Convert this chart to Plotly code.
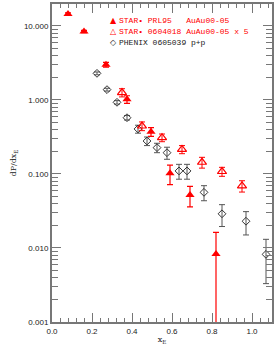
import plotly.graph_objects as go

# STAR PRL95 AuAu00-05 (filled triangles)
star1_x = [0.08, 0.16, 0.27, 0.375, 0.495, 0.59, 0.69, 0.82]
star1_y = [14.5, 8.4, 3.0, 1.02, 0.373, 0.102, 0.052, 0.0083]
star1_e = [0.5, 0.3, 0.22, 0.12, 0.05, 0.03, 0.016, 0.008]
star1_em = [0.5, 0.3, 0.22, 0.12, 0.05, 0.03, 0.016, 0.00829]

# STAR 0604018 AuAu00-05 x 5 (open triangles)
star2_x = [0.35, 0.45, 0.55, 0.65, 0.75, 0.85, 0.95]
star2_y = [1.26, 0.445, 0.31, 0.215, 0.144, 0.108, 0.069]
star2_e = [0.16, 0.06, 0.037, 0.027, 0.024, 0.015, 0.012]

# PHENIX 0605039 p+p (open diamonds)
phx_x = [0.225, 0.275, 0.325, 0.375, 0.43, 0.475, 0.525, 0.575, 0.635, 0.675, 0.76, 0.85, 0.97, 1.07]
phx_y = [2.29, 1.38, 0.93, 0.576, 0.406, 0.279, 0.227, 0.194, 0.11, 0.11, 0.0565, 0.029, 0.023, 0.0082]
phx_e = [0.1, 0.06, 0.05, 0.04, 0.05, 0.037, 0.033, 0.036, 0.025, 0.025, 0.013, 0.0095, 0.008, 0.0049]

legend_labels = ["STAR\u2022 PRL95   AuAu00-05",
                 "STAR\u2022 0604018 AuAu00-05 x 5",
                 "PHENIX 0605039 p+p"]
legend_symbols = ["\u25b2", "\u25b3", "\u25c7"]

x_tickvals = [0, 0.2, 0.4, 0.6, 0.8, 1.0]
x_ticktext = ["0.0", "0.2", "0.4", "0.6", "0.8", "1.0"]
y_tickvals = [0.001, 0.01, 0.1, 1, 10]
y_ticktext = ["0.001", "0.010", "0.100", "1.000", "10.000"]
y_minor = [m * 10 ** d for d in range(-3, 2) for m in range(2, 10)]

RED = "#ff0000"
BLK = "#222222"
GRAY = "#555555"
AXC = "#777777"

fig = go.Figure()
fig.add_trace(go.Scatter(
    x=phx_x, y=phx_y, mode="markers", name=legend_labels[2],
    marker=dict(symbol="diamond-open", size=6, color="#333333", line=dict(width=1)),
    error_y=dict(type="data", array=phx_e, color=GRAY, thickness=1, width=3)))
fig.add_trace(go.Scatter(
    x=star2_x, y=star2_y, mode="markers", name=legend_labels[1],
    marker=dict(symbol="triangle-up-open", size=8, color=RED, line=dict(width=1.2)),
    error_y=dict(type="data", array=star2_e, color=RED, thickness=1, width=3)))
fig.add_trace(go.Scatter(
    x=star1_x, y=star1_y, mode="markers", name=legend_labels[0],
    marker=dict(symbol="triangle-up", size=8, color=RED),
    error_y=dict(type="data", array=star1_e, arrayminus=star1_em, color=RED, thickness=1.2, width=3)))

# legend as text annotations in paper coordinates
leg_col = [RED, RED, BLK]
leg_y_px = [21, 32, 43]
H_plot = 318.0
W_plot = 220.0
for i in range(3):
    yp = 1 - (leg_y_px[i] - 4) / H_plot
    fig.add_annotation(x=(113 - 52) / W_plot, y=yp, xref="paper", yref="paper",
                       text=legend_symbols[i], showarrow=False, xanchor="center", yanchor="middle",
                       font=dict(family="DejaVu Sans", size=8, color=leg_col[i]))
    fig.add_annotation(x=(117 - 52) / W_plot, y=yp, xref="paper", yref="paper",
                       text=legend_labels[i], showarrow=False, xanchor="left", yanchor="middle",
                       font=dict(family="Liberation Mono", size=8, color=leg_col[i]))

fig.update_layout(
    width=274, height=346,
    margin=dict(l=52, r=2, t=4, b=24),
    paper_bgcolor="white", plot_bgcolor="white",
    showlegend=False,
    font=dict(family="Liberation Sans", size=8, color=BLK),
    xaxis=dict(range=[0, 1.1], tickvals=x_tickvals, ticktext=x_ticktext,
               ticks="inside", ticklen=9, tickwidth=1, tickcolor=AXC,
               minor=dict(dtick=0.04, tick0=0, ticks="inside", ticklen=4, tickcolor=AXC, tickwidth=1, showgrid=False),
               showline=True, linecolor=AXC, linewidth=2, mirror="ticks",
               showgrid=False, zeroline=False, automargin=False,
               title=dict(text="x<sub>E</sub>", font=dict(size=8, family="DejaVu Serif"), standoff=2)),
    yaxis=dict(type="log", range=[-3, 1.297],
               tickvals=y_tickvals, ticktext=y_ticktext,
               ticks="inside", ticklen=9, tickwidth=1, tickcolor=AXC,
               minor=dict(tickvals=y_minor, ticks="inside", ticklen=6, tickcolor=AXC, tickwidth=1, showgrid=False),
               showline=True, linecolor=AXC, linewidth=2, mirror="ticks",
               showgrid=False, zeroline=False, automargin=False,
               title=dict(text="dP/dx<sub>E</sub>", font=dict(size=8, family="DejaVu Serif"), standoff=6)),
)
fig.write_html("out.html", config={"displayModeBar": False},
               post_script="document.body.style.margin='0';document.body.style.padding='0';")
